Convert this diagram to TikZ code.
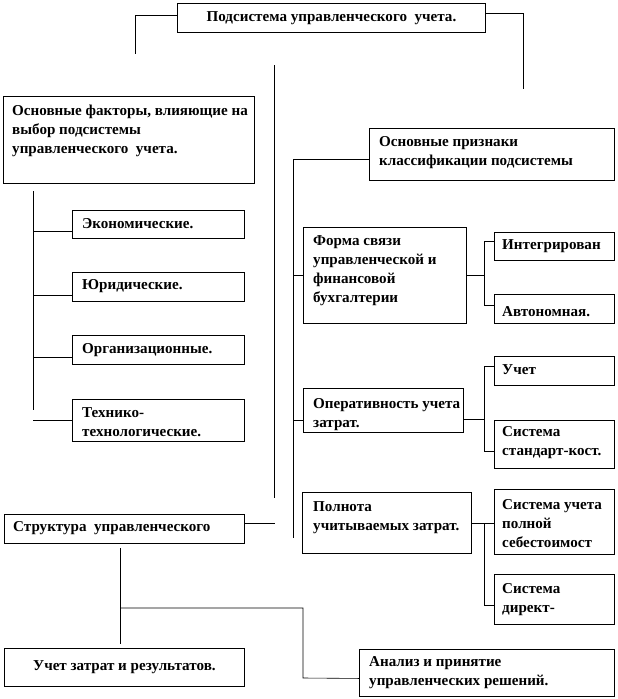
\documentclass[tikz,border=0pt]{standalone}
\usepackage{fontspec}
\setmainfont{Liberation Serif}
\usepackage{tikz}
\usetikzlibrary{positioning}

\tikzset{
  blk/.style={draw, line width=0.9pt, anchor=north west, inner sep=0pt},
  txt/.style={anchor=west, align=left, inner sep=0pt,
    font=\fontsize{15.1}{19}\selectfont\bfseries},
  wire/.style={line width=0.6pt}
}

\begin{document}
\begin{tikzpicture}[x=1pt,y=-1pt]
  \useasboundingbox (0,0) rectangle (618,699);

  %% title
  \node[blk, minimum width=308pt, minimum height=29pt] (top) at (177,3) {};
  \node[txt, anchor=center] (top-t) at (top.center) {Подсистема управленческого~ учета.};

  %% factors (left)
  \node[blk, minimum width=251pt, minimum height=87pt] (fac) at (3,96) {};
  \node[txt] (fac-t) at (12,131) {Основные факторы, влияющие на\\выбор подсистемы\\управленческого~ учета.};

  \node[blk, minimum width=172pt, minimum height=28pt] (econ) at (72,210) {};
  \node[txt] (econ-t) at (82,224) {Экономические.};
  \node[blk, minimum width=172pt, minimum height=29pt] (jur) at (72,272) {};
  \node[txt] (jur-t) at (82,286) {Юридические.};
  \node[blk, minimum width=172pt, minimum height=29pt] (org) at (72,335) {};
  \node[txt] (org-t) at (82,350) {Организационные.};
  \node[blk, minimum width=172pt, minimum height=42pt] (tech) at (72,399) {};
  \node[txt] (tech-t) at (82,422) {Технико-\\технологические.};

  %% classification (right)
  \node[blk, minimum width=245pt, minimum height=52pt] (prizn) at (369,128) {};
  \node[txt] (prizn-t) at (379,153) {Основные признаки\\классификации подсистемы};

  \node[blk, minimum width=163pt, minimum height=96pt] (forma) at (303,227) {};
  \node[txt] (forma-t) at (313,271) {Форма связи\\управленческой и\\финансовой\\бухгалтерии};
  \node[blk, minimum width=120pt, minimum height=28pt] (integr) at (494,232) {};
  \node[txt] (integr-t) at (502,246) {Интегрирован};
  \node[blk, minimum width=120pt, minimum height=29pt] (avt) at (494,294) {};
  \node[txt] (avt-t) at (502,312) {Автономная.};

  \node[blk, minimum width=160pt, minimum height=44pt] (oper) at (303,388) {};
  \node[txt] (oper-t) at (313,415) {Оперативность учета\\затрат.};
  \node[blk, minimum width=120pt, minimum height=29pt] (uchet) at (494,356) {};
  \node[txt] (uchet-t) at (502,370) {Учет};
  \node[blk, minimum width=120pt, minimum height=48pt] (stand) at (494,420) {};
  \node[txt] (stand-t) at (502,443) {Система\\стандарт-кост.};

  \node[blk, minimum width=169pt, minimum height=61pt] (poln) at (302,492) {};
  \node[txt] (poln-t) at (313,518) {Полнота\\учитываемых затрат.};
  \node[blk, minimum width=120pt, minimum height=65pt] (pols) at (494,489) {};
  \node[txt] (pols-t) at (502,524) {Система учета\\полной\\себестоимост};
  \node[blk, minimum width=120pt, minimum height=50pt] (direct) at (494,574) {};
  \node[txt] (direct-t) at (502,600) {Система\\директ-};

  %% structure (bottom)
  \node[blk, minimum width=240pt, minimum height=29pt] (struct) at (4,514) {};
  \node[txt] (struct-t) at (13,528) {Структура~ управленческого};
  \node[blk, minimum width=240pt, minimum height=38pt] (ucz) at (4,648) {};
  \node[txt, anchor=center] (ucz-t) at (ucz.center) {Учет затрат и результатов.};
  \node[blk, minimum width=255pt, minimum height=47pt] (anal) at (359,649) {};
  \node[txt] (anal-t) at (369,673) {Анализ и принятие\\управленческих решений.};

  %% free line ends
  \coordinate (l1) at (135,54);
  \coordinate (r1) at (523,89);
  \coordinate (m1) at (274,65);
  \coordinate (m2) at (274,498);
  \coordinate (fb1) at (33,191);
  \coordinate (fb2) at (33,410);
  \coordinate (pb1) at (293,538);
  \coordinate (sv1) at (120,548);
  \coordinate (sv2) at (120,644);
  \coordinate (sj) at (120,608);

  %% connectors
  \draw[wire] ([yshift=2.5pt]top.west) -| (l1);
  \draw[wire] ([yshift=4.5pt]top.east) -| (r1);
  \draw[wire] (m1) -- (m2);

  % factors bus
  \draw[wire] (fb1) -- (fb2);
  \coordinate (e-in) at ([yshift=-7pt]econ.west);
  \coordinate (j-in) at ([yshift=-8.5pt]jur.west);
  \coordinate (o-in) at ([yshift=-7.5pt]org.west);
  \draw[wire] (fb1 |- e-in) -- (e-in);
  \draw[wire] (fb1 |- j-in) -- (j-in);
  \draw[wire] (fb1 |- o-in) -- (o-in);
  \draw[wire] (fb1 |- tech.west) -- (tech.west);

  % classification bus
  \draw[wire] ([yshift=-5pt]prizn.west) -| (pb1);
  \draw[wire] (pb1 |- forma.west) -- (forma.west);
  \coordinate (op-in) at ([yshift=-10pt]oper.west);
  \draw[wire] (pb1 |- op-in) -- (op-in);

  \draw[wire] (forma.east) -- ++(18,0);
  \draw[wire] ([yshift=5pt]integr.west) -- ++(-10,0) |- ([yshift=3.5pt]avt.west);

  \draw[wire] ([yshift=-9pt]oper.east) -- ++(21,0);
  \draw[wire] ([yshift=4.5pt]uchet.west) -- ++(-10,0) |- ([yshift=-7pt]stand.west);

  \draw[wire] (poln.east) -- (poln.east -| pols.west);
  \draw[wire] ([yshift=-6pt]direct.west) -- ++(-10,0) |- (poln.east);

  % structure
  \draw[wire] ([yshift=5.5pt]struct.east) -- ++(30,0);
  \draw[wire] (sv1) -- (sv2);
  \draw[wire] (sj) -| ++(183,70) -- ([yshift=-5.5pt]anal.west);
\end{tikzpicture}
\end{document}
